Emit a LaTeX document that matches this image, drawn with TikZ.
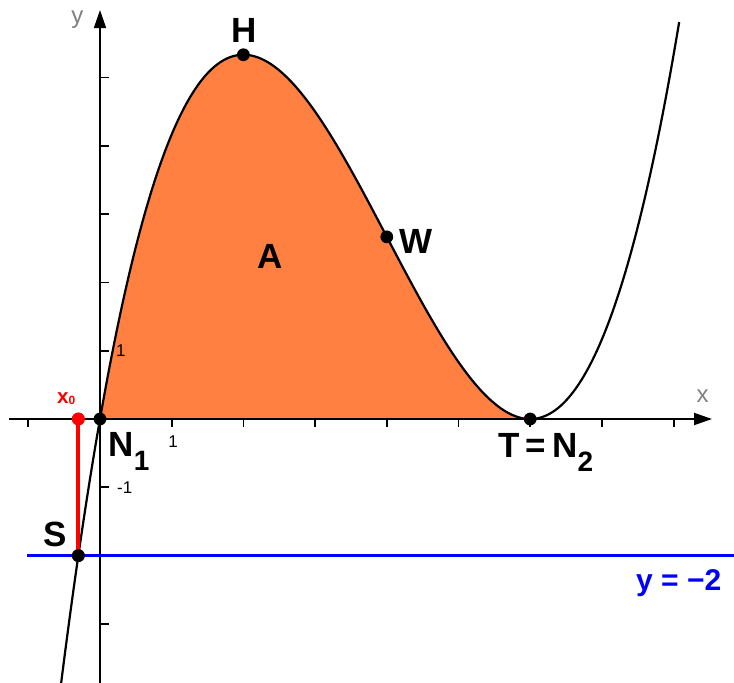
\documentclass[tikz,border=0pt]{standalone}
\usepackage{fontspec}
\setmainfont{Liberation Sans}
\usetikzlibrary{arrows.meta}
\definecolor{areaorange}{RGB}{255,128,64}
\definecolor{lineblue}{RGB}{0,0,255}
\definecolor{markred}{RGB}{255,0,0}
\begin{document}
\begin{tikzpicture}[x=35.85pt,y=34.15pt,
  curve/.style={line width=1.1pt,black},
  axis/.style={line width=0.9pt,black},
  tickmark/.style={line width=0.9pt,black},
  pt/.style={circle,fill=black,inner sep=0pt,minimum size=6.4pt},
  lbl/.style={font=\fontsize{17.5}{17.5}\selectfont\bfseries,inner sep=0pt},
  ticklbl/.style={font=\fontsize{8.5}{8.5}\selectfont,inner sep=0pt},
  axlbl/.style={font=\fontsize{12}{12}\selectfont,text=gray,inner sep=0pt},
]
\useasboundingbox (-1.3947,-3.8507) rectangle (8.8424,6.1347);
\begin{scope}
\clip (-1.3947,-3.8507) rectangle (8.8424,6.1347);
% area
\fill[areaorange] (0,0) -- plot[domain=0:6,samples=200] (\x,{\x*(\x-6)^2/6}) -- cycle;
% axes
\coordinate (XL) at (-1.269,0);
\coordinate (XR) at (8.536,0);
\coordinate (YB) at (0,-3.95);
\coordinate (YT) at (0,5.988);
\draw[axis,-{Triangle[length=9pt,width=6pt]}] (XL) -- (XR);
\draw[axis,-{Triangle[length=9pt,width=6pt]}] (YB) -- (YT);
\foreach \i in {-1,1,2,3,4,5,6,7,8} \draw[tickmark] (\i,0) -- ++(0pt,-4pt);
\foreach \j in {-3,-2,-1,1,2,3,4,5} \draw[tickmark] (0,\j) -- ++(4.5pt,0pt);
% line y=-2
\coordinate (BL) at (-1.018,-2);
\coordinate (BR) at (8.9,-2);
\draw[lineblue,line width=1.8pt] (BL) -- (BR);
% curve
\draw[curve] plot[domain=-0.6:8.08,samples=300,smooth] (\x,{\x*(\x-6)^2/6});
\end{scope}
% points
\node[pt,fill=markred] (X0) at (-0.3021,0) {};
\node[pt] (S) at (-0.3021,-2) {};
\draw[markred,line width=2pt] (X0.center) -- (S.center);
\node[pt,fill=markred] at (X0) {};
\node[pt] at (S) {};
\node[pt] (N1) at (0,0) {};
\node[pt] (T) at (6,0) {};
\node[pt] (H) at (2,{32/6}) {};
\node[pt] (W) at (4,{16/6}) {};
% labels
\node[lbl,anchor=base] (Hl) at (2.008,5.51) {H};
\node[lbl,anchor=base] (Wl) at (4.414,2.426) {W};
\node[lbl,anchor=base] (Al) at (2.378,2.206) {A};
\node[lbl,anchor=base west] (N1l) at (0.116,-0.542) {N\raisebox{-7pt}{\fontsize{14}{14}\selectfont 1}};
\node[lbl,anchor=base west] (Tl) at (5.556,-0.561) {T\,=\,N\raisebox{-7pt}{\fontsize{14}{14}\selectfont 2}};
\node[lbl,anchor=base west] (Sl) at (-0.791,-1.870) {S};
\node[lbl,anchor=base east,text=lineblue,font=\fontsize{15}{15}\selectfont\bfseries] (yl) at (8.671,-2.504) {y = −2};
\node[anchor=base west,text=markred,inner sep=0pt,font=\fontsize{10.3}{10.3}\selectfont\bfseries] (x0l) at (-0.604,0.230) {x\raisebox{-0.5pt}{\fontsize{6}{6}\selectfont 0}};
\node[ticklbl,anchor=base] (t1) at (1.02,-0.414) {1};
\node[ticklbl,anchor=west] (u1) at (0.22,1) {1};
\node[ticklbl,anchor=west] (um1) at (0.235,-1.007) {-1};
\node[axlbl] (xl) at (8.406,0.337) {x};
\node[axlbl] (ylab) at (-0.314,5.842) {y};
\end{tikzpicture}
\end{document}
